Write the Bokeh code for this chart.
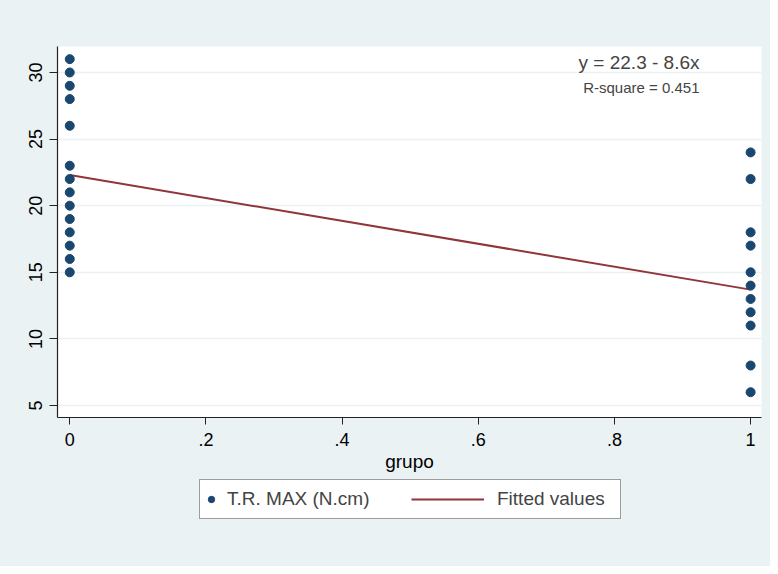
from bokeh.plotting import figure
from bokeh.models import Legend, LegendItem, Label, Range1d, FixedTicker
from bokeh.layouts import column
from bokeh.embed import file_html
from bokeh.resources import INLINE

# ---- data ----
grupo0_vals = [31, 30, 29, 28, 26, 23, 22, 21, 20, 19, 18, 17, 16, 15]
grupo1_vals = [24, 22, 18, 17, 15, 14, 13, 12, 11, 8, 6]
intercept = 22.3
slope = -8.6
r_square = 0.451
x_ticks = [0, 0.2, 0.4, 0.6, 0.8, 1]
x_tick_labels = ["0", ".2", ".4", ".6", ".8", "1"]
y_ticks = [5, 10, 15, 20, 25, 30]
series_labels = ["T.R. MAX (N.cm)", "Fitted values"]

xs = [0] * len(grupo0_vals) + [1] * len(grupo1_vals)
ys = grupo0_vals + grupo1_vals
fit_x = [0, 1]
fit_y = [intercept + slope * v for v in fit_x]

FONT = "Liberation Sans"
BG = "#eaf2f3"
NAVY = "#1a476f"
MAROON = "#90353b"
W = 770
BL, BR = 57, 9

H1 = 478
p = figure(width=W, height=H1, output_backend="svg", toolbar_location=None,
           x_range=Range1d(-0.018, 1.016), y_range=Range1d(4.1, 31.95),
           min_border_left=BL, min_border_right=BR, min_border_top=46,
           min_border_bottom=H1 - 417)
p.border_fill_color = BG
p.background_fill_color = "white"
p.outline_line_color = None

p.xgrid.grid_line_color = None
p.ygrid.grid_line_color = BG
p.ygrid.grid_line_width = 1.5

p.xaxis.ticker = FixedTicker(ticks=x_ticks)
p.xaxis.major_label_overrides = {t: l for t, l in zip(x_ticks, x_tick_labels)}
p.yaxis.ticker = FixedTicker(ticks=y_ticks)
p.yaxis.major_label_orientation = "vertical"
for ax in (p.xaxis, p.yaxis):
    ax.axis_line_color = "#222222"
    ax.axis_line_width = 1.2
    ax.major_tick_line_color = "#222222"
    ax.major_tick_in = 0
    ax.minor_tick_line_color = None
    ax.major_label_text_font = FONT
    ax.major_label_text_font_size = "18px"
    ax.major_label_text_color = "black"
p.xaxis.major_tick_out = 7
p.yaxis.major_tick_out = 8
p.xaxis.major_label_standoff = 8
p.yaxis.major_label_standoff = 7
p.xaxis.axis_label = "grupo"
p.xaxis.axis_label_text_font = FONT
p.xaxis.axis_label_text_font_size = "19px"
p.xaxis.axis_label_text_font_style = "normal"
p.xaxis.axis_label_text_color = "black"
p.xaxis.axis_label_standoff = 2

p.line(fit_x, fit_y, line_color=MAROON, line_width=2)
p.scatter(xs, ys, size=9, fill_color=NAVY, line_color=NAVY)

# annotations (screen units relative to the plot frame's bottom-left)
frame_h = 417 - 46
p.add_layout(Label(x=642, y=frame_h - 5, x_units="screen", y_units="screen",
                   text="y = %.1f - %.1fx" % (intercept, -slope), text_font=FONT,
                   text_font_size="19px", text_align="right", text_baseline="top"))
p.add_layout(Label(x=642, y=frame_h - 32, x_units="screen", y_units="screen",
                   text="R-square = %.3f" % r_square, text_font=FONT,
                   text_font_size="15px", text_align="right", text_baseline="top"))

# ---- legend strip below the chart (data drawn off-range, only the legend shows) ----
H2 = 566 - H1
K = 3            # gap between the strip's frame edge and the legend box
LEG_H = 38
pl = figure(width=W, height=H2, output_backend="svg", toolbar_location=None,
            x_axis_type=None, y_axis_type=None,
            x_range=Range1d(0, 1), y_range=Range1d(100, 101),
            min_border_left=BL, min_border_right=BR,
            min_border_top=0, min_border_bottom=H2 - (LEG_H + 2 * K))
pl.border_fill_color = BG
pl.background_fill_color = BG
pl.outline_line_color = None
pl.grid.visible = False
dot_r = pl.scatter(xs, ys, size=9, fill_color=NAVY, line_color=NAVY)
line_r = pl.line(fit_x, fit_y, line_color=MAROON, line_width=2)

legA = Legend(items=[LegendItem(label=series_labels[0], renderers=[dot_r])],
              location=(142, K), orientation="horizontal",
              glyph_width=16, glyph_height=32, label_height=32, label_width=390,
              label_standoff=8, padding=3, margin=0, spacing=0,
              label_text_font=FONT, label_text_font_size="19px",
              border_line_color="#3a3a3a", border_line_width=1.2,
              background_fill_color="white", background_fill_alpha=1)
legB = Legend(items=[LegendItem(label=series_labels[1], renderers=[line_r])],
              location=(354, K + 9), orientation="horizontal",
              glyph_width=73, glyph_height=20, label_height=20,
              label_standoff=13, padding=0, margin=0, spacing=0,
              label_text_font=FONT, label_text_font_size="19px",
              border_line_color=None, background_fill_alpha=0)
pl.add_layout(legA, "center")
pl.add_layout(legB, "center")

layout = column(p, pl, spacing=0, styles={"background-color": BG})
open("out.html", "w").write(file_html(layout, INLINE))
